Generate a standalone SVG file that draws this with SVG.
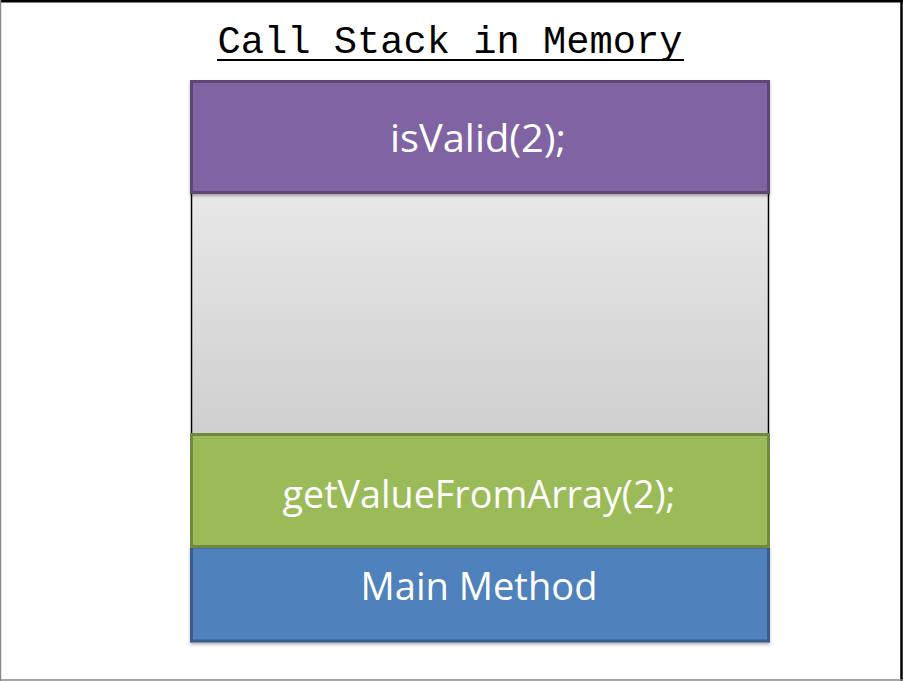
<svg xmlns="http://www.w3.org/2000/svg" width="903" height="681" viewBox="0 0 903 681">
<defs>
<linearGradient id="g" x1="0" y1="0" x2="0" y2="1">
<stop offset="0" stop-color="#e8e8e8"/>
<stop offset="1" stop-color="#cfcfcf"/>
</linearGradient>
<filter id="sh" x="-5%" y="-5%" width="110%" height="120%">
<feDropShadow dx="0" dy="2" stdDeviation="1.5" flood-color="#000" flood-opacity="0.3"/>
</filter>
</defs>
<style>
.lbl{font-family:"Open Sans","Liberation Sans",sans-serif;font-size:38px;fill:#fff;text-anchor:middle}
.title{font-family:"Liberation Mono","DejaVu Sans Mono",monospace;font-size:39px;fill:#000;text-anchor:middle}
</style>
<rect x="0" y="0" width="903" height="681" fill="#fff"/>
<line x1="0" y1="1" x2="903" y2="1" stroke="#000" stroke-width="3"/>
<line x1="0.5" y1="0" x2="0.5" y2="681" stroke="#888" stroke-width="1.5"/>
<line x1="901.5" y1="0" x2="901.5" y2="681" stroke="#000" stroke-width="2.5"/>
<line x1="0" y1="680" x2="903" y2="680" stroke="#888" stroke-width="1.5"/>
<g id="title">
<text class="title" x="450" y="53" textLength="465" lengthAdjust="spacingAndGlyphs">Call Stack in Memory</text>
<line x1="217" y1="60" x2="684" y2="60" stroke="#000" stroke-width="2"/>
</g>
<g id="empty">
<rect x="191.5" y="193" width="577" height="242" fill="url(#g)" stroke="#000" stroke-width="1.5"/>
</g>
<g id="isValid">
<rect x="191.5" y="81.5" width="577" height="111" fill="#8064a2" stroke="#5c4776" stroke-width="3" filter="url(#sh)"/>
<text class="lbl" x="478" y="152" textLength="176" lengthAdjust="spacingAndGlyphs">isValid(2);</text>
</g>
<g id="main">
<rect x="191.5" y="547" width="577" height="94" fill="#4f81bd" stroke="#385d8a" stroke-width="3" filter="url(#sh)"/>
<text class="lbl" x="479" y="600" textLength="237" lengthAdjust="spacingAndGlyphs">Main Method</text>
</g>
<g id="getValue">
<rect x="191.5" y="434.5" width="577" height="112" fill="#9bbb59" stroke="#71893f" stroke-width="3"/>
<text class="lbl" x="479" y="508" textLength="393" lengthAdjust="spacingAndGlyphs">getValueFromArray(2);</text>
</g>
<g id="connectors"></g>
</svg>
